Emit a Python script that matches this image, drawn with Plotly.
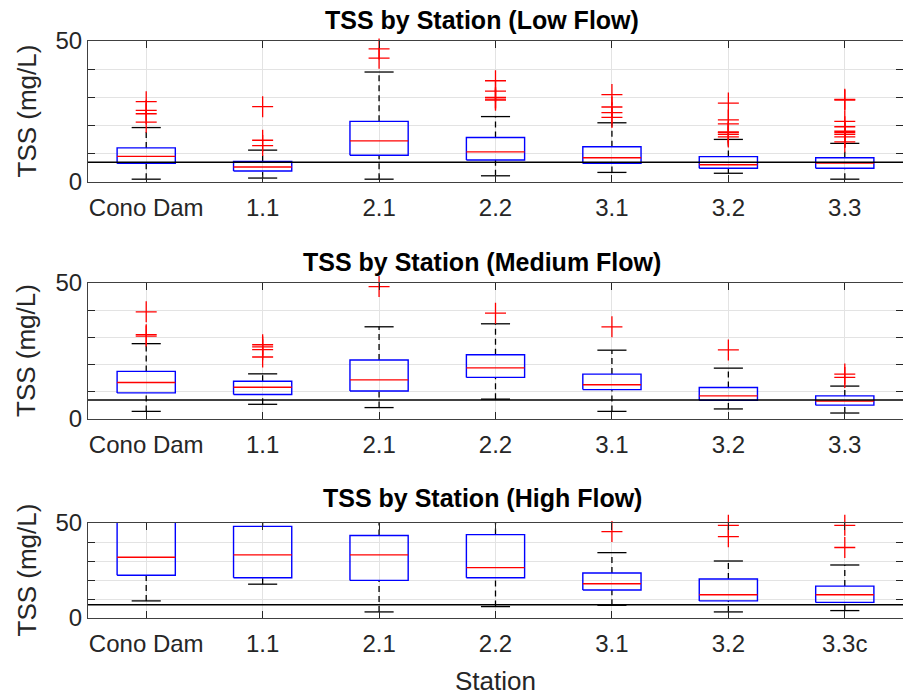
import plotly.graph_objects as go

# ---------------- data ----------------
STATIONS = ["Cono Dam", "1.1", "2.1", "2.2", "3.1", "3.2", "3.3"]
STATIONS_HIGH = ["Cono Dam", "1.1", "2.1", "2.2", "3.1", "3.2", "3.3c"]
THRESHOLD = 7  # mg/L reference line

# Low flow
LOW_LO = [1.0, 1.4, 1.0, 2.2, 3.4, 3.1, 1.0]
LOW_Q1 = [6.6, 3.9, 9.5, 7.8, 6.6, 4.9, 4.9]
LOW_MED = [9.1, 5.3, 14.6, 10.7, 8.6, 6.1, 6.7]
LOW_Q3 = [12.1, 7.3, 21.5, 15.8, 12.5, 9.0, 8.6]
LOW_HI = [19.3, 11.3, 39.0, 23.2, 21.0, 15.1, 13.7]
LOW_OUT = [
    [21.2, 24.2, 25.4, 28.5],
    [12.9, 14.8, 26.7],
    [43.9, 47.2],
    [29.0, 29.4, 30.0, 32.2, 35.9],
    [22.9, 24.6, 26.6, 31.0],
    [16.0, 16.9, 17.5, 17.8, 20.6, 22.0, 28.0],
    [14.2, 16.0, 16.9, 17.5, 18.0, 19.6, 21.5, 29.0, 29.3],
]

# Medium flow
MED_LO = [2.8, 5.4, 4.2, 7.3, 2.8, 3.7, 2.2]
MED_Q1 = [9.6, 9.0, 10.3, 15.3, 10.8, 6.9, 5.1]
MED_MED = [13.4, 11.7, 14.4, 18.8, 12.6, 8.5, 6.6]
MED_Q3 = [17.5, 13.9, 21.7, 23.6, 16.5, 11.6, 8.5]
MED_HI = [27.7, 16.6, 33.9, 35.0, 25.3, 18.7, 12.1]
MED_OUT = [
    [30.5, 31.0, 39.4],
    [22.8, 25.5, 26.5, 27.3],
    [48.7],
    [38.9],
    [33.9],
    [25.4],
    [15.3, 16.5],
]

# High flow
HIGH_LO = [9.0, 17.8, 3.2, 6.0, 6.7, 3.2, 3.9]
HIGH_Q1 = [22.5, 21.2, 19.8, 21.2, 14.7, 9.0, 8.2]
HIGH_MED = [32.0, 33.2, 33.2, 26.5, 18.0, 12.2, 12.2]
HIGH_Q3 = [60.0, 48.2, 43.4, 43.9, 23.7, 20.5, 16.8]
HIGH_HI = [90.0, 60.0, 56.0, 56.0, 34.4, 30.0, 27.9]
HIGH_OUT = [[], [], [], [], [45.5], [42.8, 48.8], [37.1, 48.8]]

PANELS = [
    ("TSS by Station (Low Flow)", STATIONS, LOW_LO, LOW_Q1, LOW_MED, LOW_Q3, LOW_HI, LOW_OUT),
    ("TSS by Station (Medium Flow)", STATIONS, MED_LO, MED_Q1, MED_MED, MED_Q3, MED_HI, MED_OUT),
    ("TSS by Station (High Flow)", STATIONS_HIGH, HIGH_LO, HIGH_Q1, HIGH_MED, HIGH_Q3, HIGH_HI, HIGH_OUT),
]

# ---------------- layout geometry ----------------
W, H = 903, 698
X0, X1 = 88, 903
PLOT_Y = [(41, 182), (283, 419), (523, 618)]  # (top, bottom) in px
TITLE_Y = [20, 262, 498]
TITLE_X = 482

BOX_HALF = 0.25
CAP_HALF = 0.125
FONT = "Liberation Sans, Arial, sans-serif"
TXT = "#262626"
GRID = "#e3e3e3"

fig = go.Figure()
annotations = []

for i, (title, labels, lo, q1, med, q3, hi, outs) in enumerate(PANELS):
    xa = "x" if i == 0 else f"x{i+1}"
    ya = "y" if i == 0 else f"y{i+1}"
    n = len(labels)
    pos = list(range(1, n + 1))

    wx, wy, cx, cy, bx, by, mx, my, ox, oy = [], [], [], [], [], [], [], [], [], []
    for k, p in enumerate(pos):
        # whiskers
        wx += [p, p, None, p, p, None]
        wy += [q3[k], hi[k], None, lo[k], q1[k], None]
        # caps
        cx += [p - CAP_HALF, p + CAP_HALF, None, p - CAP_HALF, p + CAP_HALF, None]
        cy += [hi[k], hi[k], None, lo[k], lo[k], None]
        # box
        bx += [p - BOX_HALF, p + BOX_HALF, p + BOX_HALF, p - BOX_HALF, p - BOX_HALF, None]
        by += [q1[k], q1[k], q3[k], q3[k], q1[k], None]
        # median
        mx += [p - BOX_HALF, p + BOX_HALF, None]
        my += [med[k], med[k], None]
        for v in outs[k]:
            ox.append(p)
            oy.append(v)

    common = dict(xaxis=xa, yaxis=ya, showlegend=False, hoverinfo="skip")
    fig.add_trace(go.Scatter(x=wx, y=wy, mode="lines",
                             line=dict(color="black", width=1.3, dash="6px,4px"), **common))
    fig.add_trace(go.Scatter(x=cx, y=cy, mode="lines",
                             line=dict(color="black", width=1.3), **common))
    fig.add_trace(go.Scatter(x=bx, y=by, mode="lines",
                             line=dict(color="#0000ff", width=1.4), **common))
    fig.add_trace(go.Scatter(x=mx, y=my, mode="lines",
                             line=dict(color="#ff0000", width=1.4), **common))
    fig.add_trace(go.Scatter(x=[0.5, n + 0.5], y=[THRESHOLD, THRESHOLD], mode="lines",
                             line=dict(color="black", width=1.4), **common))
    fig.add_trace(go.Scatter(x=ox, y=oy, mode="markers", cliponaxis=False,
                             marker=dict(symbol="cross-thin-open", size=15, color="#ff0000",
                                         line=dict(color="#ff0000", width=1.3)),
                             **common))

    top, bot = PLOT_Y[i]
    dom_y = [1 - bot / H, 1 - top / H]
    xkey = "xaxis" if i == 0 else f"xaxis{i+1}"
    ykey = "yaxis" if i == 0 else f"yaxis{i+1}"
    fig.update_layout(**{
        xkey: dict(domain=[X0 / W, X1 / W], anchor=ya, range=[0.5, n + 0.5],
                   tickvals=pos, ticktext=labels, ticks="inside", ticklen=7,
                   tickcolor=TXT, showline=True, linecolor="#404040", linewidth=1.2,
                   mirror="ticks", showgrid=True, gridcolor=GRID, gridwidth=1,
                   zeroline=False, tickfont=dict(family=FONT, size=24, color=TXT),
                   ticklabelstandoff=4, automargin=False, fixedrange=True),
        ykey: dict(domain=dom_y, anchor=xa, range=[0, 50],
                   tickvals=[0, 10, 20, 30, 40, 50],
                   ticktext=["0", "", "", "", "", "50"],
                   ticks="inside", ticklen=7, tickcolor=TXT, showline=True,
                   linecolor="#404040", linewidth=1.2, mirror="ticks",
                   showgrid=True, gridcolor=GRID, gridwidth=1, zeroline=False,
                   tickfont=dict(family=FONT, size=24, color=TXT),
                   automargin=False, fixedrange=True),
    })

    annotations.append(dict(text="<b>" + title + "</b>", x=TITLE_X / W, y=1 - TITLE_Y[i] / H,
                            xref="paper", yref="paper", showarrow=False,
                            xanchor="center", yanchor="middle",
                            font=dict(family=FONT, size=25, color="black")))
    annotations.append(dict(text="TSS (mg/L)", x=26 / W, y=1 - ((top + bot) / 2) / H,
                            xref="paper", yref="paper", showarrow=False, textangle=-90,
                            xanchor="center", yanchor="middle",
                            font=dict(family=FONT, size=26, color=TXT)))

annotations.append(dict(text="Station", x=495 / W, y=1 - 681 / H, xref="paper", yref="paper",
                        showarrow=False, xanchor="center", yanchor="middle",
                        font=dict(family=FONT, size=26, color=TXT)))

fig.update_layout(width=W, height=H, margin=dict(l=0, r=0, t=0, b=0, autoexpand=False),
                  paper_bgcolor="white", plot_bgcolor="white",
                  annotations=annotations)

fig.write_html("out.html", config={"displayModeBar": False})
